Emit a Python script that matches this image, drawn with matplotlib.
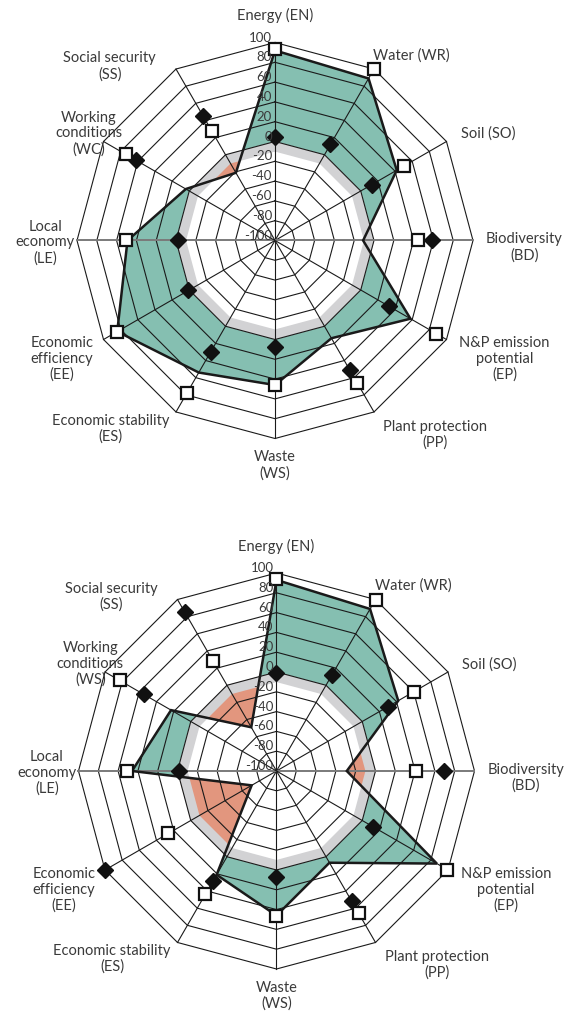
import numpy as np
import matplotlib
matplotlib.use('Agg')
import matplotlib.pyplot as plt
from matplotlib.patches import Polygon

plt.rcParams['font.family'] = ['Lato', 'DejaVu Sans']

# axes order: clockwise from the top
codes = ['EN', 'WR', 'SO', 'BD', 'EP', 'PP', 'WS', 'ES', 'EE', 'LE', 'WC', 'SS']
names_top = ['Energy (EN)', 'Water (WR)', 'Soil (SO)', 'Biodiversity\n(BD)',
             'N&P emission\npotential\n(EP)', 'Plant protection\n(PP)', 'Waste\n(WS)',
             'Economic stability\n(ES)', 'Economic\nefficiency\n(EE)', 'Local\neconomy\n(LE)',
             'Working\nconditions\n(WC)', 'Social security\n(SS)']
names_bottom = names_top[:10] + ['Working\nconditions\n(WS)', 'Social security\n(SS)']

ticks = [100, 80, 60, 40, 20, 0, -20, -40, -60, -80, -100]

# top chart
line_top = [92, 89, 42, -11, 58, 14, 46, 54, 84, 49, 4, -21]
squares_top = [93, 100, 51, 44, 88, 66, 46, 78, 84, 51, 74, 28]
diamonds_top = [5, 12, 13, 59, 33, 51, 8, 30, 1, -2, 62, 45]

# bottom chart
line_bottom = [93, 89, 42, -29, 87, 7, 46, 21, -71, 46, 23, -49]
squares_bottom = [94, 100, 60, 41, 99, 66, 46, 44, 26, 51, 83, 28]
diamonds_bottom = [-1, 12, 30, 69, 13, 52, 7, 28, 100, -2, 55, 85]

GREEN = '#85bfb1'
ORANGE = '#e2967e'
BAND = '#d2d2d4'
INK = '#1a1a1a'
TXT = '#3a3a3a'

theta = np.deg2rad(90 - 30 * np.arange(12))

# label offsets (data units, from chart centre)
lab_off = [(0, 227), (138, 187), (215, 108), (252, -7), (232, -120), (162, -196),
           (0, -227), (-166, -190), (-215, -120), (-232, -2), (-188, 108), (-167, 176)]

W, H = 567, 1013
S = 0.99  # pixels per data unit

fig = plt.figure(figsize=(W / 100, H / 100), dpi=100)


def xy(vals):
    r = np.asarray(vals, dtype=float) + 100
    return r * np.cos(theta), r * np.sin(theta)


def closed(x, y):
    return np.append(x, x[0]), np.append(y, y[0])


def radar(top, height, cx, cy, line, squares, diamonds, names):
    ax = fig.add_axes([0, 1 - (top + height) / H, 1, height / H])
    ax.set_xlim(-cx / S, (W - cx) / S)
    ax.set_ylim(-(top + height - cy) / S, (cy - top) / S)
    ax.axis('off')

    lx, ly = xy(line)
    zx, zy = xy([0] * 12)
    data_pts = np.column_stack([lx, ly])
    zero_pts = np.column_stack([zx, zy])

    # green outside the zero ring, orange inside it
    ax.add_patch(Polygon(data_pts, closed=True, fc=GREEN, ec='none', zorder=1))
    ax.add_patch(Polygon(zero_pts, closed=True, fc=ORANGE, ec='none', zorder=1.1))
    clip = Polygon(zero_pts, closed=True, transform=ax.transData)
    white = Polygon(data_pts, closed=True, fc='white', ec='none', zorder=1.2)
    ax.add_patch(white)
    white.set_clip_path(clip)

    # grey band just under zero
    bx, by = closed(*xy([-5] * 12))
    ax.plot(bx, by, color=BAND, lw=10 * S * 0.72, solid_joinstyle='miter', zorder=1.5)

    # grid
    for v in range(-80, 101, 20):
        gx, gy = closed(*xy([v] * 12))
        ax.plot(gx, gy, color=INK, lw=0.8, zorder=3)
    ox, oy = xy([100] * 12)
    for i in range(12):
        if i in (3, 9):
            ax.plot([0, ox[i]], [0, oy[i]], color='#7a7a7a', lw=1.4, zorder=3)
        else:
            ax.plot([0, ox[i]], [0, oy[i]], color=INK, lw=0.8, zorder=3)

    # data line
    cx_, cy_ = closed(lx, ly)
    ax.plot(cx_, cy_, color=INK, lw=1.8, solid_joinstyle='miter', zorder=4)

    sx, sy = xy(squares)
    ax.plot(sx, sy, 's', ms=9, mfc='white', mec='#111111', mew=1.6, ls='none', zorder=6)
    dx, dy = xy(diamonds)
    ax.plot(dx, dy, 'D', ms=8, mfc='#111111', mec='#111111', ls='none', zorder=5)

    for v in ticks:
        ax.text(-3 / S, v + 100 + 5, str(v), ha='right', va='center',
                fontsize=9.5, color=TXT, zorder=7)

    for (ox_, oy_), name in zip(lab_off, names):
        ax.text(ox_, oy_, name, ha='center', va='center', multialignment='center',
                fontsize=10.5, color=TXT, linespacing=1.15)


radar(0, 506, 275, 240.5, line_top, squares_top, diamonds_top, names_top)
radar(506, 507, 276.5, 771, line_bottom, squares_bottom, diamonds_bottom, names_bottom)

fig.savefig('out.png', dpi=100, facecolor='white')
